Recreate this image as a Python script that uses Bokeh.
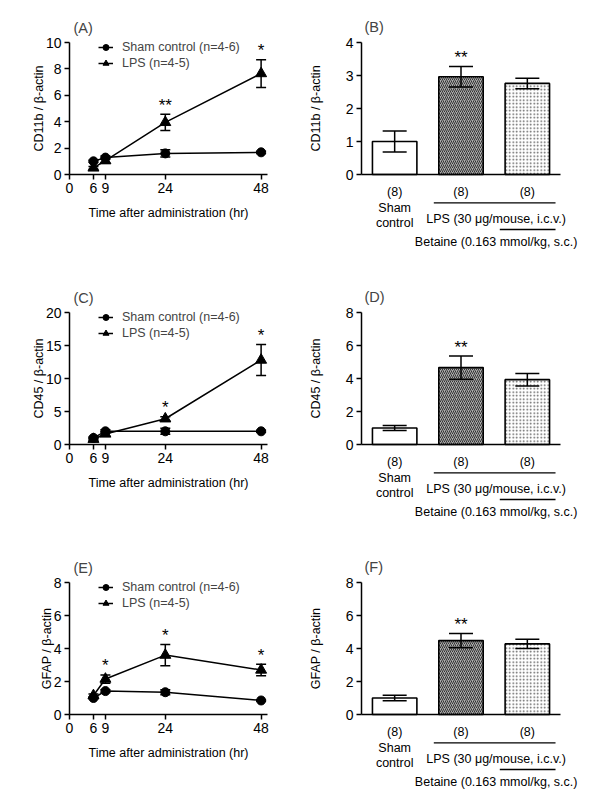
from bokeh.plotting import figure
from bokeh.models import (Range1d, FixedTicker, Legend, LegendItem, Whisker, TeeHead,
                          ColumnDataSource, Label, LabelSet, Arrow)
from bokeh.layouts import column, row
from bokeh.embed import file_html
from bokeh.resources import INLINE
from bokeh.core.properties import value

FONT = "Liberation Sans"

# ---------------- data ----------------
time_h = [6, 9, 24, 48]
time_ticks = [0, 6, 9, 24, 48]
time_label = "Time after administration (hr)"
sham_name = "Sham control (n=4-6)"
lps_name = "LPS (n=4-5)"

cd11b_ticks = [0, 2, 4, 6, 8, 10]
cd11b_sham = [1.0, 1.28, 1.6, 1.68]
cd11b_sham_err = [0.08, 0.12, 0.27, 0.08]
cd11b_lps = [0.5, 1.05, 3.95, 7.65]
cd11b_lps_err = [0.1, 0.2, 0.62, 1.05]
cd11b_stars = ["", "", "**", "*"]

cd45_ticks = [0, 5, 10, 15, 20]
cd45_sham = [1.0, 2.0, 2.0, 2.0]
cd45_sham_err = [0.15, 0.25, 0.45, 0.15]
cd45_lps = [0.8, 1.6, 3.9, 12.8]
cd45_lps_err = [0.2, 0.35, 0.3, 2.35]
cd45_stars = ["", "", "*", "*"]

gfap_ticks = [0, 2, 4, 6, 8]
gfap_sham = [1.0, 1.42, 1.35, 0.85]
gfap_sham_err = [0.05, 0.08, 0.15, 0.05]
gfap_lps = [1.15, 2.15, 3.6, 2.7]
gfap_lps_err = [0.1, 0.25, 0.65, 0.35]
gfap_stars = ["", "*", "*", "*"]

bar_groups = ["Sham\ncontrol", "LPS", "LPS + Betaine"]
bar_n = ["(8)", "(8)", "(8)"]
lps_text = "LPS (30 \u03bcg/mouse, i.c.v.)"
betaine_text = "Betaine (0.163 mmol/kg, s.c.)"

cd11b_bar_ticks = [0, 1, 2, 3, 4]
cd11b_bar = [1.0, 2.96, 2.76]
cd11b_bar_err = [0.32, 0.31, 0.16]
cd11b_bar_stars = ["", "**", ""]

cd45_bar_ticks = [0, 2, 4, 6, 8]
cd45_bar = [1.0, 4.66, 3.93]
cd45_bar_err = [0.15, 0.7, 0.38]
cd45_bar_stars = ["", "**", ""]

gfap_bar_ticks = [0, 2, 4, 6, 8]
gfap_bar = [1.0, 4.48, 4.28]
gfap_bar_err = [0.17, 0.43, 0.28]
gfap_bar_stars = ["", "**", ""]

# ---------------- layout constants (local pixels, row-relative) ----------------
F_TOP = 6        # frame top
ZERO_Y = 166     # y = 0 line
AX_H = 132       # pixel height of the drawn y axis
F_BOT = 252      # frame bottom
STAR_OFF = 9     # px above error-bar top


def style(p, ylabel, yticks, standoff, yloc):
    p.grid.visible = False
    p.outline_line_color = None
    p.background_fill_color = None
    p.border_fill_color = None
    for ax in p.axis:
        ax.axis_line_width = 1.5
        ax.major_tick_line_width = 1.5
        ax.major_tick_in = 0
        ax.major_tick_out = 5
        ax.minor_tick_line_color = None
        ax.major_label_text_font = FONT
        ax.major_label_text_font_size = "14px"
        ax.major_label_text_color = "black"
        ax.axis_label_text_font = FONT
        ax.axis_label_text_font_size = "12.5px"
        ax.axis_label_text_font_style = "normal"
        ax.axis_label_text_color = "black"
        ax.major_label_standoff = 3
    p.xaxis.fixed_location = 0
    p.yaxis.fixed_location = yloc
    p.yaxis.ticker = FixedTicker(ticks=yticks)
    p.yaxis.bounds = (yticks[0], yticks[-1])
    p.yaxis.axis_label = ylabel
    p.yaxis.axis_label_standoff = standoff


def star_labels(p, xs, means, errs, stars, ppu):
    src = ColumnDataSource(dict(
        x=[x for x, s in zip(xs, stars) if s],
        y=[m + e + STAR_OFF / ppu for m, e, s in zip(means, errs, stars) if s],
        t=[s for s in stars if s]))
    p.add_layout(LabelSet(x="x", y="y", text="t", source=src, text_font=value(FONT),
                          text_font_size="17px", text_align="center",
                          text_baseline="middle", text_color="black"))


def yrange(ppu):
    return Range1d(-(F_BOT - ZERO_Y) / ppu, (ZERO_Y - F_TOP) / ppu)


def line_panel(tag, ylabel, yticks, sham, sham_err, lps, lps_err, stars, H, pad):
    ymax = yticks[-1]
    ppu = AX_H / ymax
    axis_end = 49.6
    W = 308
    ax_l, ax_r, fr = 69, 267, 300     # y-axis position, x-axis end, frame right
    xppu = (ax_r - ax_l) / axis_end
    p = figure(width=W, height=H + pad,
               x_range=Range1d(-ax_l / xppu, (fr - ax_l) / xppu), y_range=yrange(ppu),
               min_border_left=0, min_border_right=W - fr,
               min_border_top=F_TOP + pad, min_border_bottom=H - F_BOT,
               output_backend="svg", toolbar_location=None)
    style(p, ylabel, yticks, -3, 0)
    p.xaxis.ticker = FixedTicker(ticks=time_ticks)
    p.xaxis.bounds = (0, axis_end)
    p.xaxis.axis_label = time_label
    p.xaxis.axis_label_standoff = 10

    ws = ColumnDataSource(dict(
        x=time_h + time_h,
        up=[m + e for m, e in zip(sham, sham_err)] + [m + e for m, e in zip(lps, lps_err)],
        lo=[m - e for m, e in zip(sham, sham_err)] + [m - e for m, e in zip(lps, lps_err)]))
    p.add_layout(Whisker(base="x", upper="up", lower="lo", source=ws, line_width=1.5,
                         level="overlay",
                         upper_head=TeeHead(size=10, line_width=1.5),
                         lower_head=TeeHead(size=10, line_width=1.5)))
    l1 = p.line(time_h, sham, line_width=1.5, color="black")
    m1 = p.scatter(time_h, sham, marker="circle", size=9, color="black")
    l2 = p.line(time_h, lps, line_width=1.5, color="black")
    m2 = p.scatter(time_h, lps, marker="triangle", size=11, color="black")

    star_labels(p, time_h, lps, lps_err, stars, ppu)

    p.add_layout(Label(x=4 / xppu, y=(ZERO_Y - 19) / ppu, text=tag, text_font=FONT,
                       text_font_size="14.5px", text_align="left", text_baseline="middle"))

    leg = Legend(items=[LegendItem(label=sham_name, renderers=[l1, m1]),
                        LegendItem(label=lps_name, renderers=[l2, m2])],
                 location=(ax_l + 29, F_BOT - 63), padding=0, margin=0, spacing=0,
                 glyph_width=15, glyph_height=16, label_height=16, label_standoff=9,
                 border_line_color=None, background_fill_alpha=0,
                 label_text_font=FONT, label_text_font_size="12.5px")
    p.add_layout(leg)
    return p


def bar_panel(tag, ylabel, yticks, vals, errs, stars, H, pad):
    ymax = yticks[-1]
    ppu = AX_H / ymax
    W = 292
    ax_l, ax_r, fr = 53, 252, 292
    xppu = (ax_r - ax_l) / len(vals)
    pos = [i + 1 for i in range(len(vals))]
    p = figure(width=W, height=H + pad,
               x_range=Range1d(0.5 - ax_l / xppu, 0.5 + (fr - ax_l) / xppu),
               y_range=yrange(ppu),
               min_border_left=0, min_border_right=W - fr,
               min_border_top=F_TOP + pad, min_border_bottom=H - F_BOT,
               output_backend="svg", toolbar_location=None)
    style(p, ylabel, yticks, 20, 0.5)
    p.xaxis.ticker = FixedTicker(ticks=[])
    p.xaxis.bounds = (0.5, 0.5 + len(vals))
    p.xaxis.major_tick_out = 0

    src = ColumnDataSource(dict(x=pos, top=vals,
                                fill=["white", "#ababab", "white"],
                                hatch=[" ", "/", "."],
                                hcol=["black", "#333333", "#5a5a5a"],
                                hscale=[4, 4, 3.5]))
    p.vbar(x="x", top="top", width=0.67, bottom=0, source=src, fill_color="fill",
           hatch_pattern="hatch", hatch_color="hcol", hatch_scale="hscale", hatch_weight=1,
           line_color="black", line_width=1.6)
    ws = ColumnDataSource(dict(x=pos, up=[v + e for v, e in zip(vals, errs)],
                               lo=[v - e for v, e in zip(vals, errs)]))
    p.add_layout(Whisker(base="x", upper="up", lower="lo", source=ws, line_width=1.5,
                         level="overlay",
                         upper_head=TeeHead(size=24, line_width=1.5),
                         lower_head=TeeHead(size=24, line_width=1.5)))
    star_labels(p, pos, vals, errs, stars, ppu)

    def yb(px):  # pixels below the x axis -> data units
        return -px / ppu

    tf = dict(text_font_size="12.5px", text_align="center",
              text_baseline="middle", text_color="black")
    nsrc = ColumnDataSource(dict(x=pos, y=[yb(17)] * len(pos), t=bar_n))
    p.add_layout(LabelSet(x="x", y="y", text="t", source=nsrc, text_font=value(FONT), **tf))
    for i, line in enumerate(bar_groups[0].split("\n")):
        p.add_layout(Label(x=pos[0], y=yb(33 + 15 * i), text=line, text_font=FONT, **tf))
    p.add_layout(Arrow(start=None, end=None, x_start=pos[1] - 0.41, y_start=yb(28.3),
                       x_end=pos[2] + 0.425, y_end=yb(28.3), line_width=1.3, line_color="black"))
    mid = (pos[1] + pos[2]) / 2 + 0.03
    p.add_layout(Label(x=mid, y=yb(44.5), text=lps_text, text_font=FONT, **tf))
    p.add_layout(Arrow(start=None, end=None, x_start=pos[2] - 0.415, y_start=yb(55),
                       x_end=pos[2] + 0.425, y_end=yb(55), line_width=1.3, line_color="black"))
    p.add_layout(Label(x=mid, y=yb(67), text=betaine_text, text_font=FONT, **tf))

    p.add_layout(Label(x=0.5 + 3 / xppu, y=(ZERO_Y - 18) / ppu, text=tag, text_font=FONT,
                       text_font_size="14.5px", text_align="left", text_baseline="middle"))
    return p


PAD0 = 8
pA = line_panel("(A)", "CD11b / \u03b2-actin", cd11b_ticks, cd11b_sham, cd11b_sham_err,
                cd11b_lps, cd11b_lps_err, cd11b_stars, 270, PAD0)
pB = bar_panel("(B)", "CD11b / \u03b2-actin", cd11b_bar_ticks, cd11b_bar, cd11b_bar_err,
               cd11b_bar_stars, 270, PAD0)
pC = line_panel("(C)", "CD45 / \u03b2-actin", cd45_ticks, cd45_sham, cd45_sham_err,
                cd45_lps, cd45_lps_err, cd45_stars, 270, 0)
pD = bar_panel("(D)", "CD45 / \u03b2-actin", cd45_bar_ticks, cd45_bar, cd45_bar_err,
               cd45_bar_stars, 270, 0)
pE = line_panel("(E)", "GFAP / \u03b2-actin", gfap_ticks, gfap_sham, gfap_sham_err,
                gfap_lps, gfap_lps_err, gfap_stars, 252, 0)
pF = bar_panel("(F)", "GFAP / \u03b2-actin", gfap_bar_ticks, gfap_bar, gfap_bar_err,
               gfap_bar_stars, 252, 0)

layout = column(row(pA, pB), row(pC, pD), row(pE, pF))
open("out.html", "w").write(file_html(layout, INLINE))
